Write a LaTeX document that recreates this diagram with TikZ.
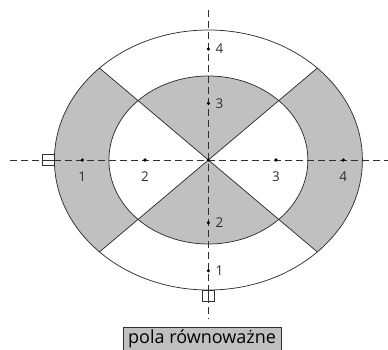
\documentclass[tikz,border=0pt]{standalone}
\usepackage{fontspec}
\setmainfont{Open Sans}
\usepackage{xcolor}
\usetikzlibrary{positioning,calc}

\definecolor{fieldgray}{HTML}{C0C0C0}
\definecolor{linegray}{HTML}{303030}

\newcommand{\outerrx}{154}
\newcommand{\outerry}{130}
\newcommand{\innerrx}{99.5}
\newcommand{\innerry}{84}

\begin{document}
\begin{tikzpicture}[
    x=1pt, y=1pt,
    ring/.style={draw=linegray, line width=0.75pt},
    axis/.style={draw=linegray, line width=0.95pt, dash pattern=on 7pt off 4pt},
    field/.style={fill=fieldgray},
    probe/.style={circle, fill=black, inner sep=0pt, minimum size=3.6pt},
    num/.style={font=\fontsize{13.5}{13.5}\selectfont, text=linegray, inner sep=1pt},
    sensor/.style={rectangle, draw=linegray, fill=white, line width=0.75pt, minimum width=12pt, minimum height=11pt, inner sep=0pt},
    caption/.style={rectangle, draw=linegray, fill=fieldgray, line width=0.75pt, inner sep=0pt, text height=16pt, text depth=12pt, minimum width=157.7pt, font=\fontsize{18}{18}\selectfont}
]
\useasboundingbox (-208.4,-189) rectangle (179.6,160);

% Grey fields
\fill[field] (0,0) -- (45:\innerrx pt and \innerry pt) arc[start angle=45, end angle=135, x radius=\innerrx, y radius=\innerry] -- cycle;
\fill[field] (0,0) -- (225:\innerrx pt and \innerry pt) arc[start angle=225, end angle=315, x radius=\innerrx, y radius=\innerry] -- cycle;
\fill[field] (135:\outerrx pt and \outerry pt) arc[start angle=135, end angle=225, x radius=\outerrx, y radius=\outerry]
    -- (225:\innerrx pt and \innerry pt) arc[start angle=225, end angle=135, x radius=\innerrx, y radius=\innerry] -- cycle;
\fill[field] (-45:\outerrx pt and \outerry pt) arc[start angle=-45, end angle=45, x radius=\outerrx, y radius=\outerry]
    -- (45:\innerrx pt and \innerry pt) arc[start angle=45, end angle=-45, x radius=\innerrx, y radius=\innerry] -- cycle;

% Ellipses and diagonals
\draw[ring] (0,0) ellipse[x radius=\outerrx, y radius=\outerry];
\draw[ring] (0,0) ellipse[x radius=\innerrx, y radius=\innerry];
\draw[ring] (135:\outerrx pt and \outerry pt) -- (-45:\outerrx pt and \outerry pt);
\draw[ring] (45:\outerrx pt and \outerry pt) -- (225:\outerrx pt and \outerry pt);

% Axes
\coordinate (hleft) at (-198.4,0);
\coordinate (hright) at (179.6,0);
\coordinate (vtop) at (0,150);
\coordinate (vbottom) at (0,-159);
\draw[axis] (hleft) -- (hright);
\draw[axis] (vtop) -- (vbottom);

% Points on the horizontal axis
\node[probe] (h1) at (-126.1,0) {};
\node[probe] (h2) at (-63.4,0) {};
\node[probe] (h3) at (67.6,0) {};
\node[probe] (h4) at (134.9,0) {};
\node[probe] (centre) at (0,0) {};
\node[num, below=9pt of h1] (h1lbl) {1};
\node[num, below=9pt of h2] (h2lbl) {2};
\node[num, below=9pt of h3] (h3lbl) {3};
\node[num, below=9pt of h4] (h4lbl) {4};

% Points on the vertical axis
\node[probe] (v4) at (0,111) {};
\node[probe] (v3) at (0,56.7) {};
\node[probe] (v2) at (0,-62.7) {};
\node[probe] (v1) at (0,-110.7) {};
\node[num, right=4pt of v4] (v4lbl) {4};
\node[num, right=4pt of v3] (v3lbl) {3};
\node[num, right=4pt of v2] (v2lbl) {2};
\node[num, right=4pt of v1] (v1lbl) {1};

% Sensors
\node[sensor, anchor=east] (sleft) at (-\outerrx,0) {};
\draw[linegray, line width=0.75pt] (sleft.west) -- (sleft.east);
\node[sensor, anchor=north] (sbottom) at (0,-\outerry) {};
\draw[linegray, line width=0.75pt] (sbottom.north) -- (sbottom.south);

% Caption
\node[caption, anchor=base] (legend) at (-6.3,-183.3) {pola równoważne};

\end{tikzpicture}
\end{document}
